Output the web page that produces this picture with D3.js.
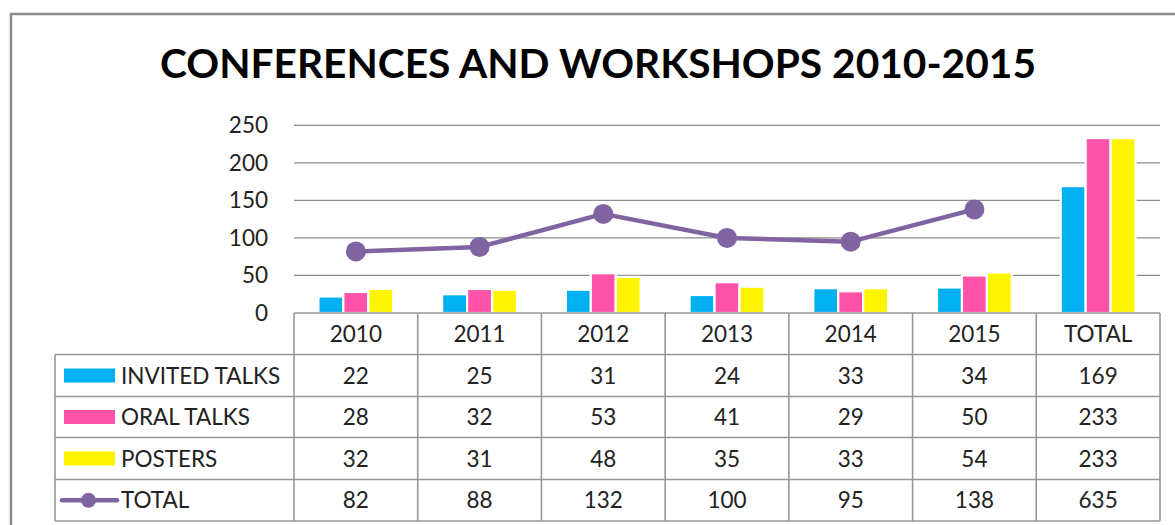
<!DOCTYPE html>
<html>
<head>
<meta charset="utf-8">
<script src="https://cdn.jsdelivr.net/npm/d3@7"></script>
<style>
  html, body { margin: 0; padding: 0; background: #fff; }
  svg { display: block; }
  text { font-family: Lato, "Open Sans", sans-serif; }
</style>
</head>
<body>
<svg id="chart" width="1175" height="525"></svg>
<script>
// Conference and workshop contributions per year, with the overall total column
const categories = ["2010", "2011", "2012", "2013", "2014", "2015", "TOTAL"];
const invitedTalks = [22, 25, 31, 24, 33, 34, 169];
const oralTalks = [28, 32, 53, 41, 29, 50, 233];
const posters = [32, 31, 48, 35, 33, 54, 233];
const totals = [82, 88, 132, 100, 95, 138, 635];
const yTicks = [0, 50, 100, 150, 200, 250];
const titleText = "CONFERENCES AND WORKSHOPS 2010-2015";

const series = [
  { name: "INVITED TALKS", values: invitedTalks, color: "#00B0F0" },
  { name: "ORAL TALKS", values: oralTalks, color: "#FF52A8" },
  { name: "POSTERS", values: posters, color: "#FFF500" }
];
const lineSeries = { name: "TOTAL", values: totals, color: "#8064A2" };

const labelSize = 22.5;
const textColor = "#222";

const svg = d3.select("#chart");

// Outer chart frame
svg.append("rect")
  .attr("x", 11).attr("y", 14)
  .attr("width", 1200).attr("height", 600)
  .attr("fill", "#fff")
  .attr("stroke", "#8a8a8a").attr("stroke-width", 2.5);

// Title
svg.append("text")
  .attr("x", 160).attr("y", 78)
  .attr("font-size", 40).attr("font-weight", 700)
  .attr("fill", "#000")
  .attr("textLength", 876).attr("lengthAdjust", "spacingAndGlyphs")
  .text(titleText);

// Plot geometry
const plotLeft = 294, plotRight = 1160;
const x = d3.scaleBand().domain(categories).range([plotLeft, plotRight]);
const y = d3.scaleLinear().domain([0, 250]).range([313, 125.3]);

const groupWidth = x.bandwidth() * 0.605;
const xs = d3.scaleBand()
  .domain(series.map(s => s.name))
  .range([0, groupWidth]);

// Horizontal gridlines
svg.append("g")
  .selectAll("line")
  .data(yTicks.filter(t => t > 0))
  .join("line")
  .attr("x1", plotLeft).attr("x2", plotRight)
  .attr("y1", d => y(d)).attr("y2", d => y(d))
  .attr("stroke", "#8c8c8c").attr("stroke-width", 1.3);

// Y axis labels
const yAxis = d3.axisLeft(y).tickValues(yTicks).tickSize(0).tickPadding(0);
const yAxisG = svg.append("g")
  .attr("transform", `translate(268,0)`)
  .call(yAxis);
yAxisG.select(".domain").remove();
yAxisG.selectAll("text")
  .attr("font-size", labelSize)
  .attr("font-family", "Lato, 'Open Sans', sans-serif")
  .attr("fill", textColor);

// Bars
series.forEach(s => {
  svg.append("g")
    .selectAll("rect")
    .data(categories.map((c, i) => ({ c, v: s.values[i] })))
    .join("rect")
    .attr("x", d => x(d.c) + (x.bandwidth() - groupWidth) / 2 + xs(s.name))
    .attr("y", d => y(d.v))
    .attr("width", xs.bandwidth())
    .attr("height", d => y(0) - y(d.v))
    .attr("fill", s.color)
    .attr("stroke", "#fff").attr("stroke-width", 2.2);
});

// Total line for the individual years
const yearPoints = categories
  .map((c, i) => ({ c, v: lineSeries.values[i] }))
  .filter(d => d.c !== "TOTAL");

svg.append("path")
  .datum(yearPoints)
  .attr("fill", "none")
  .attr("stroke", lineSeries.color)
  .attr("stroke-width", 4.5)
  .attr("stroke-linejoin", "round")
  .attr("d", d3.line().x(d => x(d.c) + x.bandwidth() / 2).y(d => y(d.v)));

svg.append("g")
  .selectAll("circle")
  .data(yearPoints)
  .join("circle")
  .attr("cx", d => x(d.c) + x.bandwidth() / 2)
  .attr("cy", d => y(d.v))
  .attr("r", 10)
  .attr("fill", lineSeries.color);

// Data table
const tableLeft = 55;
const rowEdges = [313, 354.5, 396.5, 437.5, 479.5, 521];
const gridColor = "#979797";
const table = svg.append("g");

// Horizontal lines
table.append("line")
  .attr("x1", plotLeft).attr("x2", plotRight)
  .attr("y1", rowEdges[0]).attr("y2", rowEdges[0])
  .attr("stroke", gridColor).attr("stroke-width", 1.6);
table.selectAll("line.h")
  .data(rowEdges.slice(1))
  .join("line")
  .attr("class", "h")
  .attr("x1", tableLeft).attr("x2", plotRight)
  .attr("y1", d => d).attr("y2", d => d)
  .attr("stroke", gridColor).attr("stroke-width", 1.6);

// Vertical lines
const colEdges = categories.map(c => x(c)).concat([plotRight]);
table.selectAll("line.v")
  .data(colEdges)
  .join("line")
  .attr("class", "v")
  .attr("x1", d => d).attr("x2", d => d)
  .attr("y1", rowEdges[0]).attr("y2", rowEdges[5])
  .attr("stroke", gridColor).attr("stroke-width", 1.6);
table.append("line")
  .attr("x1", tableLeft).attr("x2", tableLeft)
  .attr("y1", rowEdges[1]).attr("y2", rowEdges[5])
  .attr("stroke", gridColor).attr("stroke-width", 1.6);

const rowCenter = i => (rowEdges[i] + rowEdges[i + 1]) / 2;

// Header row
table.selectAll("text.head")
  .data(categories)
  .join("text")
  .attr("class", "head")
  .attr("x", d => x(d) + x.bandwidth() / 2)
  .attr("y", rowCenter(0))
  .attr("dy", "0.36em")
  .attr("text-anchor", "middle")
  .attr("font-size", labelSize)
  .attr("fill", textColor)
  .text(d => d);

// Value rows with legend keys
const rows = series.concat([lineSeries]);
rows.forEach((s, ri) => {
  const cy = rowCenter(ri + 1);
  if (s === lineSeries) {
    table.append("line")
      .attr("x1", 62).attr("x2", 117)
      .attr("y1", cy).attr("y2", cy)
      .attr("stroke", s.color).attr("stroke-width", 4.5)
      .attr("stroke-linecap", "round");
    table.append("circle")
      .attr("cx", 88.5).attr("cy", cy).attr("r", 7.5)
      .attr("fill", s.color);
  } else {
    table.append("rect")
      .attr("x", 64).attr("y", cy - 7)
      .attr("width", 51).attr("height", 14)
      .attr("fill", s.color);
  }
  table.append("text")
    .attr("x", 121).attr("y", cy)
    .attr("dy", "0.36em")
    .attr("font-size", labelSize)
    .attr("fill", textColor)
    .text(s.name);
  table.selectAll(null)
    .data(categories.map((c, i) => ({ c, v: s.values[i] })))
    .join("text")
    .attr("x", d => x(d.c) + x.bandwidth() / 2)
    .attr("y", cy)
    .attr("dy", "0.36em")
    .attr("text-anchor", "middle")
    .attr("font-size", labelSize)
    .attr("fill", textColor)
    .text(d => d.v);
});
</script>
</body>
</html>
